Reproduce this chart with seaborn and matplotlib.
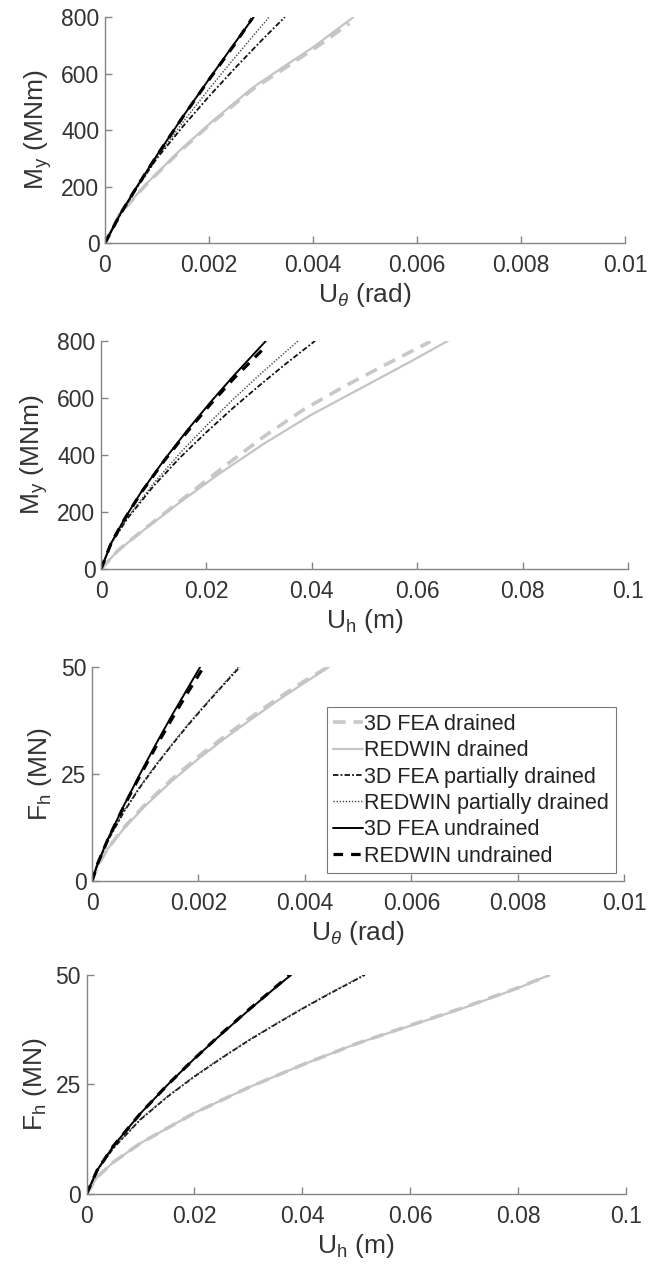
import matplotlib
matplotlib.use('Agg')
import matplotlib.pyplot as plt
import seaborn as sns

# Curve points (x = displacement / rotation, y = load)
series_names = ['3D FEA drained', 'REDWIN drained', '3D FEA partially drained',
                'REDWIN partially drained', '3D FEA undrained', 'REDWIN undrained']

# Panel 1: M_y vs U_theta
p1_fea_d_u = [0, 0.000283, 0.000797, 0.00144, 0.002084, 0.002855, 0.0035, 0.0042, 0.0047]
p1_fea_d_m = [0, 103, 208, 325, 430, 546, 624, 710, 778]
p1_red_d_u = [0, 0.000283, 0.000797, 0.00144, 0.002084, 0.002855, 0.0035, 0.00401, 0.00478]
p1_red_d_m = [0, 104, 210, 328, 434, 552, 632, 694, 800]
p1_fea_p_u = [0, 0.0003, 0.0006, 0.001, 0.0015, 0.002, 0.0025, 0.003, 0.00346]
p1_fea_p_m = [0, 103, 192, 300, 413, 519, 619, 715, 800]
p1_red_p_u = [0, 0.0003, 0.0006, 0.001, 0.0015, 0.002, 0.0025, 0.003, 0.00316]
p1_red_p_m = [0, 104, 194, 304, 428, 545, 657, 766, 800]
p1_fea_u_u = [0, 0.0003, 0.0006, 0.001, 0.0015, 0.002, 0.0025, 0.00286]
p1_fea_u_m = [0, 105, 196, 311, 448, 580, 709, 800]
p1_red_u_u = [0, 0.0003, 0.0006, 0.001, 0.0015, 0.002, 0.0025, 0.00283]
p1_red_u_m = [0, 104, 195, 310, 447, 578, 705, 795]

# Panel 2: M_y vs U_h
p2_fea_d_u = [0, 0.00316, 0.00821, 0.0158, 0.0234, 0.031, 0.0385, 0.0461, 0.0537, 0.0625]
p2_fea_d_m = [0, 64, 140, 250, 360, 466, 560, 640, 714, 798]
p2_red_d_u = [0, 0.00316, 0.00821, 0.01453, 0.0221, 0.03095, 0.0398, 0.0499, 0.05875, 0.0658]
p2_red_d_m = [0, 64, 138, 228, 330, 440, 540, 640, 728, 800]
p2_fea_p_u = [0, 0.002, 0.005, 0.01, 0.015, 0.02, 0.025, 0.03, 0.035, 0.0406]
p2_fea_p_m = [0, 92, 177, 292, 391, 480, 564, 643, 719, 800]
p2_red_p_u = [0, 0.002, 0.005, 0.01, 0.015, 0.02, 0.025, 0.03, 0.0374]
p2_red_p_m = [0, 92, 180, 301, 407, 503, 594, 680, 800]
p2_fea_u_u = [0, 0.0019, 0.00442, 0.00758, 0.012, 0.01642, 0.02085, 0.02527, 0.03127]
p2_fea_u_m = [0, 90, 175, 269, 383, 488, 587, 680, 800]
p2_red_u_u = [0, 0.0019, 0.00442, 0.00758, 0.012, 0.01642, 0.02085, 0.02527, 0.0315]
p2_red_u_m = [0, 90, 174, 267, 380, 483, 580, 670, 785]

# Panel 3: F_h vs U_theta
p3_fea_d_u = [0, 0.0001, 0.0003, 0.0006, 0.001, 0.0015, 0.002, 0.0025, 0.003, 0.0035, 0.004, 0.0044]
p3_fea_d_f = [0, 3.5, 7.7, 12.5, 17.9, 23.8, 29.1, 33.9, 38.4, 42.8, 46.8, 49.8]
p3_red_d_u = [0, 0.0001, 0.0003, 0.0006, 0.001, 0.0015, 0.002, 0.0025, 0.003, 0.0035, 0.004, 0.00445]
p3_red_d_f = [0, 3.5, 7.6, 12.3, 17.6, 23.4, 28.6, 33.4, 37.9, 42.3, 46.4, 50]
p3_fea_p_u = [0, 0.0001, 0.0003, 0.0006, 0.0009, 0.0012, 0.0015, 0.0018, 0.0021, 0.0024, 0.002775]
p3_fea_p_f = [0, 3.9, 9.5, 16.2, 21.9, 27.0, 31.8, 36.4, 40.7, 44.9, 50]
p3_red_p_u = [0, 0.0001, 0.0003, 0.0006, 0.0009, 0.0012, 0.0015, 0.0018, 0.0021, 0.0024, 0.00275]
p3_red_p_f = [0, 3.9, 9.6, 16.4, 22.1, 27.2, 32.0, 36.6, 40.9, 45.1, 50]
p3_fea_u_u = [0, 0.0001, 0.0003, 0.0006, 0.0009, 0.0012, 0.0015, 0.0018, 0.00203]
p3_fea_u_f = [0, 3.9, 9.9, 17.7, 25.0, 32.0, 38.7, 45.1, 50]
p3_red_u_u = [0, 0.0001, 0.0003, 0.0006, 0.0009, 0.0012, 0.0015, 0.0018, 0.00207]
p3_red_u_f = [0, 3.9, 9.8, 17.5, 24.6, 31.4, 37.9, 44.1, 49.5]

# Panel 4: F_h vs U_h
p4_fea_d_u = [0, 0.002, 0.005, 0.01, 0.02, 0.03, 0.04, 0.05, 0.06, 0.07, 0.08, 0.0858]
p4_fea_d_f = [0, 3.9, 7.3, 11.6, 18.5, 24.3, 29.5, 34.3, 38.5, 42.6, 47.1, 50]
p4_red_d_u = [0, 0.002, 0.005, 0.01, 0.02, 0.03, 0.04, 0.05, 0.06, 0.07, 0.08, 0.0858]
p4_red_d_f = [0, 3.9, 7.3, 11.6, 18.5, 24.3, 29.5, 34.3, 38.4, 42.5, 47.0, 50]
p4_fea_p_u = [0, 0.002, 0.005, 0.01, 0.015, 0.02, 0.025, 0.03, 0.035, 0.04, 0.045, 0.0516]
p4_fea_p_f = [0, 5.4, 10.5, 17.0, 22.2, 26.8, 31.0, 35.0, 38.7, 42.3, 45.7, 50]
p4_red_p_u = [0, 0.002, 0.005, 0.01, 0.015, 0.02, 0.025, 0.03, 0.035, 0.04, 0.045, 0.0514]
p4_red_p_f = [0, 5.4, 10.6, 17.1, 22.3, 26.9, 31.1, 35.1, 38.8, 42.4, 45.8, 50]
p4_fea_u_u = [0, 0.002, 0.005, 0.01, 0.015, 0.02, 0.025, 0.03, 0.035, 0.0379]
p4_fea_u_f = [0, 5.5, 11.0, 18.4, 24.9, 30.9, 36.5, 41.9, 47.1, 50]
p4_red_u_u = [0, 0.002, 0.005, 0.01, 0.015, 0.02, 0.025, 0.03, 0.035, 0.0377]
p4_red_u_f = [0, 5.5, 11.0, 18.4, 24.9, 30.9, 36.6, 42.0, 47.2, 50]

x_ticks_rot = [0, 0.002, 0.004, 0.006, 0.008, 0.01]
x_labels_rot = ['0', '0.002', '0.004', '0.006', '0.008', '0.01']
x_ticks_disp = [0, 0.02, 0.04, 0.06, 0.08, 0.1]
x_labels_disp = ['0', '0.02', '0.04', '0.06', '0.08', '0.1']
y_ticks_m = [0, 200, 400, 600, 800]
y_ticks_f = [0, 25, 50]

# line styles: color, width, dash pattern
styles = [
    ('#c8c8c8', 2.6, (0, (3.5, 2.2))),
    ('#c4c4c4', 1.6, '-'),
    ('#111111', 1.3, (0, (3, 1.2, 1, 1.2))),
    ('#444444', 1.0, (0, (1, 1.2))),
    ('#000000', 1.4, '-'),
    ('#000000', 2.3, (0, (3, 2.5))),
]

sns.set_style('ticks')
plt.rcParams['font.family'] = ['Liberation Sans', 'DejaVu Sans']
plt.rcParams['mathtext.fontset'] = 'custom'
plt.rcParams['mathtext.rm'] = 'Liberation Sans'
plt.rcParams['mathtext.it'] = 'Liberation Sans:italic'

text_col = '#333333'
axis_col = '#858585'

fig = plt.figure(figsize=(6.62, 12.69), dpi=100)
boxes = [
    [0.1586, 0.8085, 0.7855, 0.1781],
    [0.1526, 0.5516, 0.7960, 0.1797],
    [0.1390, 0.3057, 0.8040, 0.1686],
    [0.1307, 0.0591, 0.8150, 0.1726],
]

panels = [
    [(p1_fea_d_u, p1_fea_d_m), (p1_red_d_u, p1_red_d_m), (p1_fea_p_u, p1_fea_p_m),
     (p1_red_p_u, p1_red_p_m), (p1_fea_u_u, p1_fea_u_m), (p1_red_u_u, p1_red_u_m)],
    [(p2_fea_d_u, p2_fea_d_m), (p2_red_d_u, p2_red_d_m), (p2_fea_p_u, p2_fea_p_m),
     (p2_red_p_u, p2_red_p_m), (p2_fea_u_u, p2_fea_u_m), (p2_red_u_u, p2_red_u_m)],
    [(p3_fea_d_u, p3_fea_d_f), (p3_red_d_u, p3_red_d_f), (p3_fea_p_u, p3_fea_p_f),
     (p3_red_p_u, p3_red_p_f), (p3_fea_u_u, p3_fea_u_f), (p3_red_u_u, p3_red_u_f)],
    [(p4_fea_d_u, p4_fea_d_f), (p4_red_d_u, p4_red_d_f), (p4_fea_p_u, p4_fea_p_f),
     (p4_red_p_u, p4_red_p_f), (p4_fea_u_u, p4_fea_u_f), (p4_red_u_u, p4_red_u_f)],
]

xlabels = [r'U$_\theta$ (rad)', r'U$_\mathregular{h}$ (m)', r'U$_\theta$ (rad)', r'U$_\mathregular{h}$ (m)']
ylabels = [r'M$_\mathregular{y}$ (MNm)', r'M$_\mathregular{y}$ (MNm)', r'F$_\mathregular{h}$ (MN)', r'F$_\mathregular{h}$ (MN)']

for i, box in enumerate(boxes):
    ax = fig.add_axes(box)
    for (xs, ys), name, (col, lw, ls) in zip(panels[i], series_names, styles):
        sns.lineplot(x=xs, y=ys, ax=ax, color=col, linewidth=lw, sort=False,
                     estimator=None, label=name, legend=False)
        ax.lines[-1].set_linestyle(ls)

    if i in (0, 2):
        ax.set_xlim(0, 0.01)
        ax.set_xticks(x_ticks_rot)
        ax.set_xticklabels(x_labels_rot)
    else:
        ax.set_xlim(0, 0.1)
        ax.set_xticks(x_ticks_disp)
        ax.set_xticklabels(x_labels_disp)
    if i in (0, 1):
        ax.set_ylim(0, 800)
        ax.set_yticks(y_ticks_m)
    else:
        ax.set_ylim(0, 50)
        ax.set_yticks(y_ticks_f)

    sns.despine(ax=ax)
    for sp in ['left', 'bottom']:
        ax.spines[sp].set_color(axis_col)
        ax.spines[sp].set_linewidth(1.0)
    ax.tick_params(axis='both', direction='in', length=5, width=1.0, color=axis_col,
                   labelsize=16.5, labelcolor=text_col)
    ax.tick_params(axis='x', pad=8)
    ax.tick_params(axis='y', pad=4)
    ax.set_xlabel(xlabels[i], fontsize=19, color=text_col, labelpad=3)
    ax.set_ylabel(ylabels[i], fontsize=19, color=text_col, labelpad=5)

    if i == 2:
        leg = ax.legend(loc='lower left', bbox_to_anchor=(0.441, 0.037), fontsize=15.5,
                        frameon=True, fancybox=False, handlelength=1.4,
                        handletextpad=0.05, borderpad=0.3, labelspacing=0.25,
                        borderaxespad=0)
        leg.get_frame().set_edgecolor('#555555')
        leg.get_frame().set_linewidth(0.8)
        for t in leg.get_texts():
            t.set_color('#222222')

fig.savefig('out.png', dpi=100)
